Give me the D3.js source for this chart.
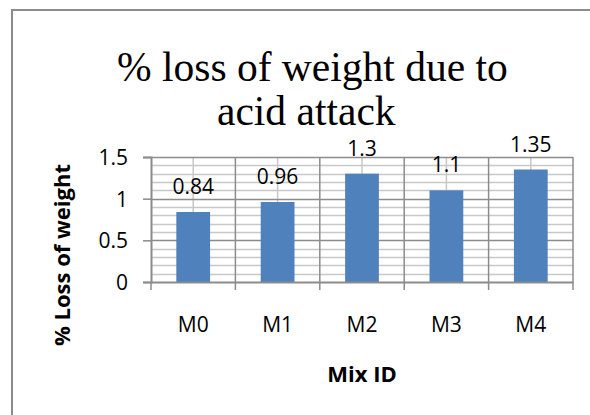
<!DOCTYPE html>
<html><head><meta charset="utf-8">
<script src="https://cdn.jsdelivr.net/npm/d3@7"></script>
<style>body{margin:0;background:#fff}svg{display:block}</style>
</head><body>
<svg id="c" width="590" height="415"></svg>
<script>
const categories = ["M0","M1","M2","M3","M4"];
const values = [0.84, 0.96, 1.3, 1.1, 1.35];
const labels = ["0.84","0.96","1.3","1.1","1.35"];
const yTicks = [0, 0.5, 1, 1.5];
const yTickLabels = ["0","0.5","1","1.5"];
const minorTicks = [0.1,0.2,0.3,0.4,0.6,0.7,0.8,0.9,1.1,1.2,1.3,1.4];
const titleLines = ["% loss of weight due to","acid attack"];
const yTitle = "% Loss of weight";
const xTitle = "Mix ID";

const svg = d3.select("#c");
const L = 151, R = 573, T = 157, B = 282;
const sans = "'Open Sans', sans-serif";
const x = d3.scaleBand().domain(categories).range([L, R]).padding(0);
const y = d3.scaleLinear().domain([0, 1.5]).range([B, T]);

// outer frame
svg.append("rect").attr("x",12).attr("y",10).attr("width",620).attr("height",440)
  .attr("fill","none").attr("stroke","#8c8c8c").attr("stroke-width",2);

// title
svg.append("text").attr("x",117).attr("y",81).attr("font-family","'Liberation Serif', 'Times New Roman', serif")
  .attr("font-size",41.5).attr("fill","#000").text(titleLines[0]);
svg.append("text").attr("x",217).attr("y",125).attr("font-family","'Liberation Serif', 'Times New Roman', serif")
  .attr("font-size",41.5).attr("fill","#000").text(titleLines[1]);

// minor horizontal grid
svg.append("g").selectAll("line").data(minorTicks).join("line")
  .attr("x1",L).attr("x2",R).attr("y1",d=>Math.round(y(d))+0.5).attr("y2",d=>Math.round(y(d))+0.5)
  .attr("stroke","#c8c8c8").attr("stroke-width",1.5);
// minor vertical grid (category centers)
svg.append("g").selectAll("line").data(categories).join("line")
  .attr("x1",d=>x(d)+x.bandwidth()/2).attr("x2",d=>x(d)+x.bandwidth()/2).attr("y1",T).attr("y2",B)
  .attr("stroke","#c8c8c8").attr("stroke-width",1.5);
// major horizontal grid
svg.append("g").selectAll("line").data(yTicks.slice(1)).join("line")
  .attr("x1",L).attr("x2",R).attr("y1",d=>Math.round(y(d))+0.5).attr("y2",d=>Math.round(y(d))+0.5)
  .attr("stroke","#8c8c8c").attr("stroke-width",1.5);
// major vertical grid (boundaries)
svg.append("g").selectAll("line").data(categories).join("line")
  .attr("x1",d=>x(d)+x.bandwidth()).attr("x2",d=>x(d)+x.bandwidth()).attr("y1",T).attr("y2",B)
  .attr("stroke","#8c8c8c").attr("stroke-width",1.5);

// bars
const bw = x.bandwidth()*0.4;
svg.append("g").selectAll("rect").data(values).join("rect")
  .attr("x",(d,i)=>x(categories[i])+(x.bandwidth()-bw)/2)
  .attr("y",d=>y(d)).attr("width",bw).attr("height",d=>B-y(d))
  .attr("fill","#4f81bd");

// data labels
svg.append("g").selectAll("text").data(values).join("text")
  .attr("x",(d,i)=>x(categories[i])+x.bandwidth()/2).attr("y",d=>y(d)-18)
  .attr("text-anchor","middle").attr("font-family",sans).attr("font-size",21).attr("fill","#000")
  .text((d,i)=>labels[i]);

// y axis
const yAxis = d3.axisLeft(y).tickValues(yTicks).tickFormat((d,i)=>yTickLabels[i]).tickSize(8).tickPadding(15);
const gy = svg.append("g").attr("transform",`translate(${L},0)`).call(yAxis);
gy.select(".domain").attr("stroke","#8c8c8c").attr("stroke-width",2);
gy.selectAll(".tick line").attr("stroke","#8c8c8c").attr("stroke-width",1.5);
gy.selectAll(".tick text").attr("font-family",sans).attr("font-size",21).attr("fill","#000").attr("dy","0.36em");

// x axis
const xAxis = d3.axisBottom(x).tickSize(0).tickPadding(0);
const gx = svg.append("g").attr("transform",`translate(0,${B})`).call(xAxis);
gx.select(".domain").attr("stroke","#8c8c8c").attr("stroke-width",2);
gx.selectAll(".tick text").attr("font-family",sans).attr("font-size",21).attr("fill","#000")
  .attr("y",49.5).attr("dy",0);
// x ticks at boundaries
svg.append("g").selectAll("line").data([null].concat(categories)).join("line")
  .attr("x1",(d,i)=>i===0?L:x(d)+x.bandwidth()).attr("x2",(d,i)=>i===0?L:x(d)+x.bandwidth())
  .attr("y1",B).attr("y2",B+8).attr("stroke","#8c8c8c").attr("stroke-width",1.5);

// axis titles
svg.append("text").attr("x",(L+R)/2).attr("y",382).attr("text-anchor","middle")
  .attr("font-family",sans).attr("font-weight","bold").attr("font-size",22).attr("fill","#000").text(xTitle);
svg.append("text").attr("transform","translate(70,255) rotate(-90)").attr("text-anchor","middle")
  .attr("font-family",sans).attr("font-weight","bold").attr("font-size",22).attr("fill","#000").text(yTitle);
</script>
</body></html>
